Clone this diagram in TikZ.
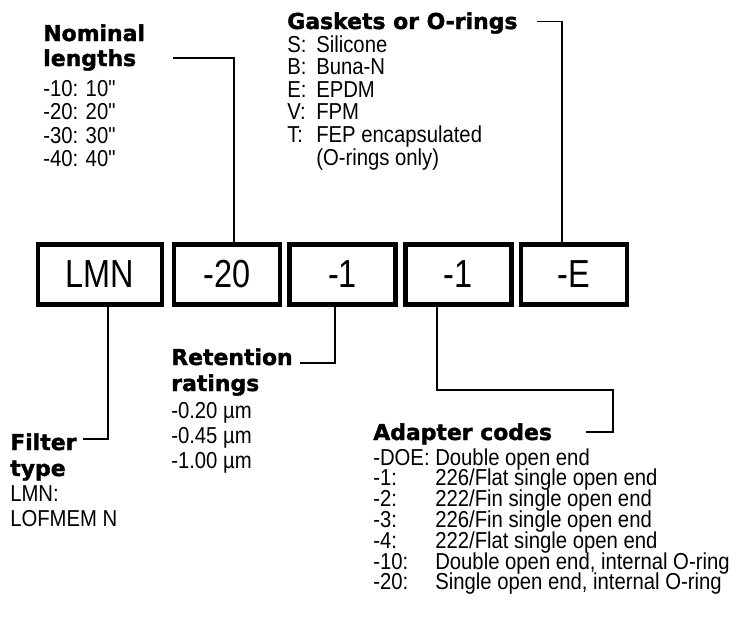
\documentclass[tikz,border=0pt]{standalone}
\usepackage{fontspec}
\setmainfont{Liberation Sans}[FakeStretch=0.88,Ligatures=TeXOff]
\newfontfamily\headfont{DejaVu Sans}[BoldFeatures={FakeBold=1.6}]
\newfontfamily\codefont{Liberation Sans}[FakeStretch=0.83]
\usetikzlibrary{positioning}
\tikzset{
  code box/.style={draw,line width=3.2pt,minimum width=26.5mm,minimum height=15mm,
    inner sep=0pt,font=\codefont\fontsize{27.8}{30}\selectfont},
  lead/.style={draw,line width=1.42pt},
  head/.style={anchor=base west,inner sep=0pt,font=\headfont\bfseries\fontsize{15.6}{18}\selectfont},
  item/.style={anchor=base west,inner sep=0pt,font=\fontsize{16.4}{19}\selectfont},
}
\begin{document}
\begin{tikzpicture}[x=0.25mm,y=-0.25mm]
  \useasboundingbox (0,0) rectangle (747,621);
  % the order code
  \node[code box,minimum width=30.9mm] (lmn) at (100,274.5) {LMN};
  \node[code box,right=1.9mm of lmn] (b20) {-20};
  \node[code box,right=1.3mm of b20] (r1) {-1};
  \node[code box,right=1.3mm of r1] (a1) {-1};
  \node[code box,right=1.3mm of a1] (gE) {-E};
  % nominal lengths
  \node[head] (nom-a) at (43,41) {Nominal};
  \node[head] (nom-b) at (43,66) {lengths};
  \foreach \t [count=\i] in {-10: 10",-20: 20",-30: 30",-40: 40"}
    \node[item] (nom-\i) at (43,{72.5+23.6*\i}) {\t};
  % gaskets
  \node[head] (gsk) at (287,29) {Gaskets or O-rings};
  \foreach \k/\t [count=\i] in {S:/Silicone,B:/Buna-N,E:/EPDM,V:/FPM,T:/FEP encapsulated} {
    \node[item] (gk-\i) at (287,{29.4+22.6*\i}) {\k};
    \node[item] (gt-\i) at (316,{29.4+22.6*\i}) {\t};
  }
  \node[item] (gt-6) at (316,165) {(O-rings only)};
  % filter type
  \node[head] (flt-a) at (10,450) {Filter};
  \node[head] (flt-b) at (10,476) {type};
  \node[item] (flt-1) at (10,501) {LMN:};
  \node[item] (flt-2) at (10,526) {LOFMEM N};
  % retention ratings
  \node[head] (ret-a) at (171,365) {Retention};
  \node[head] (ret-b) at (171,391) {ratings};
  \foreach \t [count=\i] in {-0.20 µm,-0.45 µm,-1.00 µm}
    \node[item] (ret-\i) at (171,{393+25*\i}) {\t};
  % adapter codes
  \node[head] (adp) at (373,440) {Adapter codes};
  \foreach \k/\t [count=\i] in {{-DOE:}/{Double open end},{-1:}/{226/Flat single open end},
      {-2:}/{222/Fin single open end},{-3:}/{226/Fin single open end},
      {-4:}/{222/Flat single open end},{-10:}/{Double open end, internal O-ring},
      {-20:}/{Single open end, internal O-ring}} {
    \node[item] (ak-\i) at (373,{444.2+20.8*\i}) {\k};
    \node[item] (at-\i) at (435,{444.2+20.8*\i}) {\t};
  }
  % leaders
  \coordinate (nom-end) at (173,58);
  \coordinate (gsk-end) at (537,21.5);
  \coordinate (flt-end) at (83,439);
  \coordinate (ret-end) at (300,363);
  \coordinate (adp-turn) at (613,390);
  \coordinate (adp-end) at (586,432);
  \draw[lead] (nom-end) -| ([xshift=1.85mm]b20.north);
  \draw[lead] (gsk-end) -| ([xshift=-2.9mm]gE.north);
  \draw[lead] (flt-end) -| ([xshift=2.1mm]lmn.south);
  \draw[lead] (ret-end) -| ([xshift=-1.9mm]r1.south);
  \draw[lead] ([xshift=-5.45mm]a1.south) |- (adp-turn) |- (adp-end);
\end{tikzpicture}
\end{document}
